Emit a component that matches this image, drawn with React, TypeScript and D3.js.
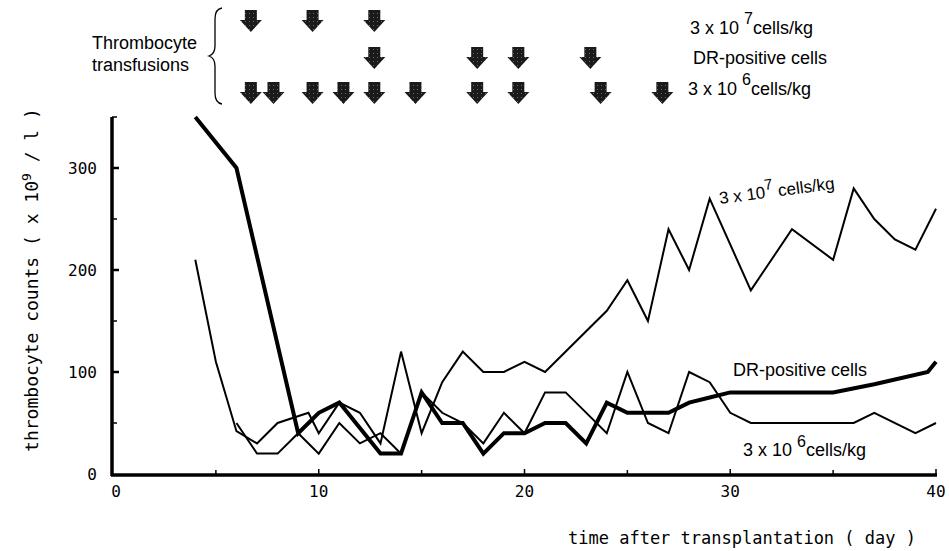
import React, { useEffect, useRef } from 'react';
import * as d3 from 'd3';

// thrombocyte counts per day
const days7 = [4, 5, 6, 7, 8, 9.5, 10, 11, 12, 13, 14, 15, 16, 17, 18, 19, 20, 21, 24, 25, 26, 27, 28, 29, 31, 33, 35, 36, 37, 38, 39, 40];
const counts7 = [210, 110, 42, 30, 50, 60, 40, 70, 60, 30, 120, 40, 90, 120, 100, 100, 110, 100, 160, 190, 150, 240, 200, 270, 180, 240, 210, 280, 250, 230, 220, 260];

const daysDR = [4, 6, 9, 10, 11, 12, 13, 14, 15, 16, 17, 18, 19, 20, 21, 22, 23, 24, 25, 27, 28, 29, 30, 35, 37, 39.6, 40];
const countsDR = [350, 300, 40, 60, 70, 45, 20, 20, 80, 50, 50, 20, 40, 40, 50, 50, 30, 70, 60, 60, 70, 75, 80, 80, 88, 100, 110];

const days6 = [6, 7, 8, 9, 10, 11, 12, 13, 14, 15, 16, 17, 18, 19, 20, 21, 22, 24, 25, 26, 27, 28, 29, 30, 31, 36, 37, 39, 40];
const counts6 = [50, 20, 20, 40, 20, 50, 30, 40, 20, 80, 60, 50, 30, 60, 40, 80, 80, 40, 100, 50, 40, 100, 90, 60, 50, 50, 60, 40, 50];

// transfusion days (arrows), one list per row
const transfusions7 = [6.7, 9.7, 12.7];
const transfusionsDR = [12.7, 17.7, 19.7, 23.2];
const transfusions6 = [6.7, 7.8, 9.7, 11.2, 12.7, 14.7, 17.7, 19.7, 23.7, 26.7];

const xTickLabels = [0, 10, 20, 30, 40];
const yTickLabels = [0, 100, 200, 300];

const MONO = '"DejaVu Sans Mono", monospace';
const SANS = '"Liberation Sans", Arial, sans-serif';

function App() {
  const svgRef = useRef<SVGSVGElement>(null);

  useEffect(() => {
    const svg = d3.select(svgRef.current);
    svg.selectAll('*').remove();

    const x = d3.scaleLinear().domain([0, 40]).range([113, 936]);
    const y = d3.scaleLinear().domain([0, 350]).range([474, 117]);

    // stipple pattern for the arrows
    const defs = svg.append('defs');
    const pat = defs.append('pattern')
      .attr('id', 'stip')
      .attr('width', 4)
      .attr('height', 4)
      .attr('patternUnits', 'userSpaceOnUse');
    pat.append('rect').attr('width', 4).attr('height', 4).attr('fill', '#1a1a1a');
    pat.append('rect').attr('x', 1).attr('y', 1).attr('width', 1).attr('height', 1).attr('fill', '#6a6a6a');

    // axes
    svg.append('line')
      .attr('x1', 112).attr('x2', 112)
      .attr('y1', y(350)).attr('y2', y(0) + 2)
      .attr('stroke', '#000').attr('stroke-width', 3.5);
    svg.append('line')
      .attr('x1', 111).attr('x2', x(40) + 1)
      .attr('y1', y(0) + 1).attr('y2', y(0) + 1)
      .attr('stroke', '#000').attr('stroke-width', 3.5);

    svg.selectAll('.ytick')
      .data(d3.range(50, 351, 50))
      .join('line')
      .attr('x1', 112).attr('x2', d => (d % 100 === 0 ? 119 : 117))
      .attr('y1', d => y(d)).attr('y2', d => y(d))
      .attr('stroke', '#000').attr('stroke-width', d => (d % 100 === 0 ? 2.5 : 1.5));

    svg.selectAll('.xtick')
      .data(d3.range(5, 41, 5))
      .join('line')
      .attr('x1', d => x(d)).attr('x2', d => x(d))
      .attr('y1', y(0)).attr('y2', d => (d % 10 === 0 ? y(0) - 5 : y(0) - 4))
      .attr('stroke', '#000').attr('stroke-width', 1.5);

    svg.selectAll('.ylab')
      .data(yTickLabels)
      .join('text')
      .attr('x', 97)
      .attr('y', d => y(d) + 6)
      .attr('text-anchor', 'end')
      .style('font-family', MONO)
      .style('font-size', '16px')
      .text(d => d);

    svg.selectAll('.xlab')
      .data(xTickLabels)
      .join('text')
      .attr('x', d => x(d) + (d === 0 ? 3 : 0))
      .attr('y', 497)
      .attr('text-anchor', 'middle')
      .style('font-family', MONO)
      .style('font-size', '16px')
      .text(d => d);

    // axis titles
    svg.append('text')
      .attr('x', 568)
      .attr('y', 544)
      .style('font-family', MONO)
      .style('font-size', '17px')
      .text('time after transplantation ( day )');

    const yt = svg.append('text')
      .attr('transform', 'translate(38,280) rotate(-90)')
      .attr('text-anchor', 'middle')
      .style('font-family', MONO)
      .style('font-size', '18px');
    yt.append('tspan').text('thrombocyte counts ( x 10');
    yt.append('tspan').attr('dy', -7).style('font-size', '13px').text('9');
    yt.append('tspan').attr('dy', 7).text(' / l )');

    // series
    const line = d3.line<[number, number]>().x(d => x(d[0])).y(d => y(d[1]));
    const series = [
      { days: days7, counts: counts7, w: 2 },
      { days: days6, counts: counts6, w: 2 },
      { days: daysDR, counts: countsDR, w: 4 },
    ];
    series.forEach(s => {
      svg.append('path')
        .datum(s.days.map((d, i) => [d, s.counts[i]] as [number, number]))
        .attr('d', line)
        .attr('fill', 'none')
        .attr('stroke', '#000')
        .attr('stroke-width', s.w)
        .attr('stroke-linejoin', 'miter')
        .attr('stroke-miterlimit', 4);
    });

    // in-plot labels
    const l7 = svg.append('text')
      .attr('transform', 'translate(720,204) rotate(-7.5)')
      .style('font-family', SANS)
      .style('font-size', '17px');
    l7.append('tspan').text('3 x 10');
    l7.append('tspan').attr('dy', -8).style('font-size', '15px').text('7');
    l7.append('tspan').attr('dy', 8).text(' cells/kg');

    svg.append('text')
      .attr('x', 733).attr('y', 376)
      .style('font-family', SANS)
      .style('font-size', '18px')
      .text('DR-positive cells');

    const l6 = svg.append('text')
      .attr('x', 743).attr('y', 456)
      .style('font-family', SANS)
      .style('font-size', '18px');
    l6.append('tspan').text('3 x 10 ');
    l6.append('tspan').attr('dy', -9).style('font-size', '16px').text('6');
    l6.append('tspan').attr('dy', 9).text('cells/kg');

    // transfusion header
    svg.append('text')
      .attr('x', 92).attr('y', 49)
      .style('font-family', SANS)
      .style('font-size', '18px')
      .text('Thrombocyte');
    svg.append('text')
      .attr('x', 92).attr('y', 71)
      .style('font-family', SANS)
      .style('font-size', '18px')
      .text('transfusions');

    svg.append('path')
      .attr('d', 'M222,8 Q215,9 215,19 L215,46 Q215,54 209,56 Q215,58 215,66 L215,93 Q215,103 222,104')
      .attr('fill', 'none')
      .attr('stroke', '#000')
      .attr('stroke-width', 1.3);

    const arrow = (cx: number, top: number) =>
      `M${cx - 6},${top} L${cx + 6},${top} L${cx + 6},${top + 10} L${cx + 11},${top + 10} ` +
      `L${cx},${top + 22} L${cx - 11},${top + 10} L${cx - 6},${top + 10} Z`;

    const rows = [
      { days: transfusions7, top: 10 },
      { days: transfusionsDR, top: 47 },
      { days: transfusions6, top: 82 },
    ];
    rows.forEach(r => {
      svg.append('g')
        .selectAll('path')
        .data(r.days)
        .join('path')
        .attr('d', d => arrow(x(d), r.top))
        .attr('fill', 'url(#stip)');
    });

    const r7 = svg.append('text')
      .attr('x', 690).attr('y', 34)
      .style('font-family', SANS)
      .style('font-size', '18px');
    r7.append('tspan').text('3 x 10 ');
    r7.append('tspan').attr('dy', -10).style('font-size', '16px').text('7');
    r7.append('tspan').attr('dy', 10).text('cells/kg');

    svg.append('text')
      .attr('x', 693).attr('y', 64)
      .style('font-family', SANS)
      .style('font-size', '18px')
      .text('DR-positive cells');

    const r6 = svg.append('text')
      .attr('x', 688).attr('y', 95)
      .style('font-family', SANS)
      .style('font-size', '18px');
    r6.append('tspan').text('3 x 10 ');
    r6.append('tspan').attr('dy', -10).style('font-size', '16px').text('6');
    r6.append('tspan').attr('dy', 10).text('cells/kg');
  }, []);

  return (
    <svg
      ref={svgRef}
      width={949}
      height={551}
      style={{ position: 'absolute', left: 0, top: 0, background: '#fff' }}
    />
  );
}

export default App;
